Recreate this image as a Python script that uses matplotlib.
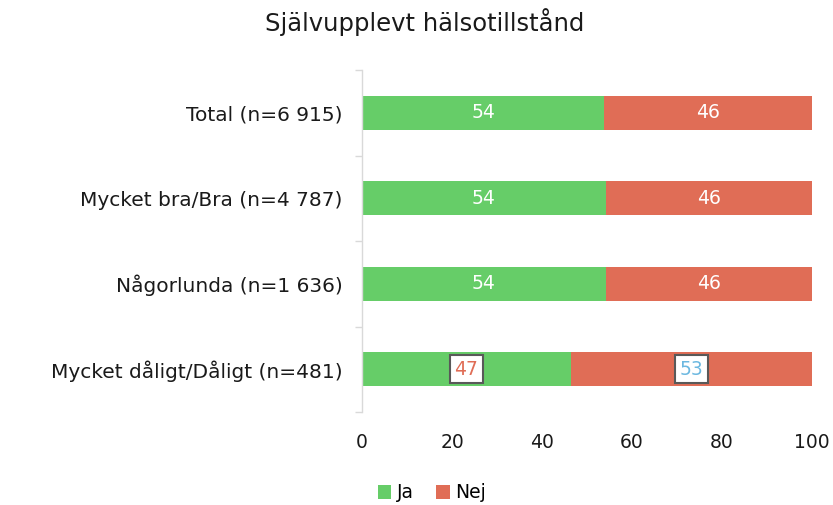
import matplotlib
matplotlib.use("Agg")
import matplotlib.pyplot as plt
import numpy as np

plt.rcParams['font.family'] = ['DejaVu Sans']

categories = ["Total (n=6 915)", "Mycket bra/Bra (n=4 787)", "Någorlunda (n=1 636)", "Mycket dåligt/Dåligt (n=481)"]
ja = [53.8, 54.2, 54.2, 46.4]
nej = [46.2, 45.8, 45.8, 53.6]
ja_labels = ["54", "54", "54", "47"]
nej_labels = ["46", "46", "46", "53"]
boxed = [False, False, False, True]

green = "#66CD68"
red = "#E06D56"

fig = plt.figure(figsize=(8.33, 5.05), dpi=100)
ax = fig.add_axes([362/833, 1-412/505, 450/833, 342/505])

y = np.arange(len(categories))
ax.barh(y, ja, height=0.4, color=green, label="Ja")
ax.barh(y, nej, left=ja, height=0.4, color=red, label="Nej")

fs = 13.5
for i in range(len(categories)):
    xj = ja[i] / 2
    xn = ja[i] + nej[i] / 2
    if boxed[i]:
        bb = dict(boxstyle="square,pad=0.25", facecolor="white", edgecolor="#595959", linewidth=1.5)
        ax.text(xj, y[i], ja_labels[i], ha="center", va="center", fontsize=fs, color=red, bbox=bb)
        ax.text(xn, y[i], nej_labels[i], ha="center", va="center", fontsize=fs, color="#6CB8E0", bbox=bb)
    else:
        ax.text(xj, y[i], ja_labels[i], ha="center", va="center", fontsize=fs, color="white")
        ax.text(xn, y[i], nej_labels[i], ha="center", va="center", fontsize=fs, color="white")

ax.set_xlim(0, 100)
ax.set_ylim(len(categories) - 0.5, -0.5)
ax.set_xticks([0, 20, 40, 60, 80, 100])
ax.set_yticks(y)
ax.set_yticklabels(categories, fontsize=14.5, color="#1a1a1a", va="center_baseline")
ax.set_yticks(np.arange(-0.5, len(categories), 1.0), minor=True)
ax.tick_params(axis='y', which='major', length=0, pad=14)
ax.tick_params(axis='y', which='minor', length=5, color="#D9D9D9", width=1)
ax.tick_params(axis='x', length=0, labelsize=fs, pad=15, colors="#1a1a1a")
for s in ["top", "right", "bottom"]:
    ax.spines[s].set_visible(False)
ax.spines["left"].set_color("#D9D9D9")
ax.spines["left"].set_linewidth(1)

fig.suptitle("Självupplevt hälsotillstånd", y=1-22/505, x=425/833, va="center", fontsize=17.5, color="#1a1a1a")

fig.legend(loc="center", bbox_to_anchor=(432/833, 1-493/505), ncol=2, frameon=False,
           fontsize=fs, handlelength=0.7, handleheight=0.7, handletextpad=0.3, columnspacing=1.2)

fig.savefig("out.png", dpi=100)
